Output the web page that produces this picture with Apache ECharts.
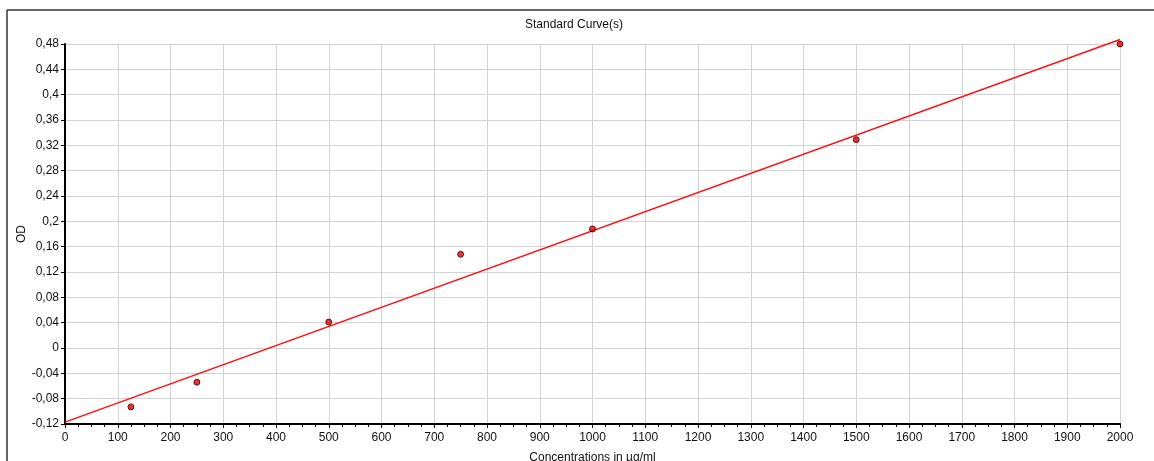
<!DOCTYPE html>
<html>
<head>
<meta charset="utf-8">
<script src="https://cdn.jsdelivr.net/npm/echarts@6/dist/echarts.min.js"></script>
<style>
  html, body { margin: 0; padding: 0; background: #fff; }
  #chart { width: 1154px; height: 461px; }
</style>
</head>
<body>
<div id="chart"></div>
<script>
'use strict';
// measured standards (concentration, OD)
var concentrations = [125, 250, 500, 750, 1000, 1500, 2000];
var odValues = [-0.093, -0.054, 0.041, 0.148, 0.188, 0.329, 0.48];
// fitted line end points
var fitX = [0, 2000];
var fitY = [-0.117, 0.487];
var yTitle = 'OD';

var chart = echarts.init(document.getElementById('chart'));
var font = 'Liberation Sans, Arial, sans-serif';

var points = concentrations.map(function (c, i) { return [c, odValues[i]]; });
var fitLine = fitX.map(function (x, i) { return [x, fitY[i]]; });

function comma(v) {
  return String(Math.round(v * 100) / 100).replace('.', ',');
}

var option = {
  animation: false,
  backgroundColor: '#fff',
  title: {
    text: 'Standard Curve(s)',
    left: 520,
    top: 14,
    textStyle: { fontFamily: font, fontSize: 12, fontWeight: 'normal', color: '#111' }
  },
  graphic: [
    { type: 'line', shape: { x1: 7, y1: 10, x2: 1154, y2: 10 }, style: { stroke: '#333', lineWidth: 1.5 } },
    { type: 'line', shape: { x1: 7, y1: 10, x2: 7, y2: 461 }, style: { stroke: '#333', lineWidth: 1.5 } },
    // y axis title, rotated like the original
    {
      type: 'text', x: 22, y: 234, rotation: Math.PI / 2,
      style: { text: yTitle, font: '12px ' + font, fill: '#111', align: 'center', verticalAlign: 'middle' }
    }
  ],
  grid: { left: 65, right: 34, top: 44, bottom: 37, containLabel: false, outerBoundsMode: 'none' },
  xAxis: {
    type: 'value',
    min: 0,
    max: 2000,
    interval: 100,
    name: 'Concentrations in µg/ml',
    nameLocation: 'middle',
    nameGap: 28,
    nameTextStyle: { fontFamily: font, fontSize: 12, color: '#111' },
    axisLine: { show: true, onZero: false, lineStyle: { color: '#000', width: 2 } },
    axisTick: { show: true, length: 4, lineStyle: { color: '#000' } },
    minorTick: { show: true, splitNumber: 4, length: 3, lineStyle: { color: '#000' } },
    axisLabel: { fontFamily: font, fontSize: 12, color: '#111', margin: 8, formatter: function (v) { return String(v); } },
    splitLine: { show: true, lineStyle: { color: '#d3d3d3', width: 1 } }
  },
  yAxis: {
    type: 'value',
    min: -0.12,
    max: 0.48,
    interval: 0.04,
    axisLine: { show: true, lineStyle: { color: '#000', width: 2 } },
    axisTick: { show: true, length: 4, lineStyle: { color: '#000' } },
    axisLabel: { fontFamily: font, fontSize: 12, color: '#111', margin: 6, formatter: comma },
    splitLine: { show: true, lineStyle: { color: '#d3d3d3', width: 1 } }
  },
  series: [
    {
      type: 'line',
      data: fitLine,
      symbol: 'none',
      clip: false,
      lineStyle: { color: '#ff1010', width: 1.5 },
      z: 2
    },
    {
      type: 'scatter',
      data: points,
      symbolSize: 6,
      clip: false,
      itemStyle: { color: '#e00000', borderColor: '#400000', borderWidth: 1 },
      z: 3
    }
  ]
};

chart.setOption(option);
</script>
</body>
</html>
